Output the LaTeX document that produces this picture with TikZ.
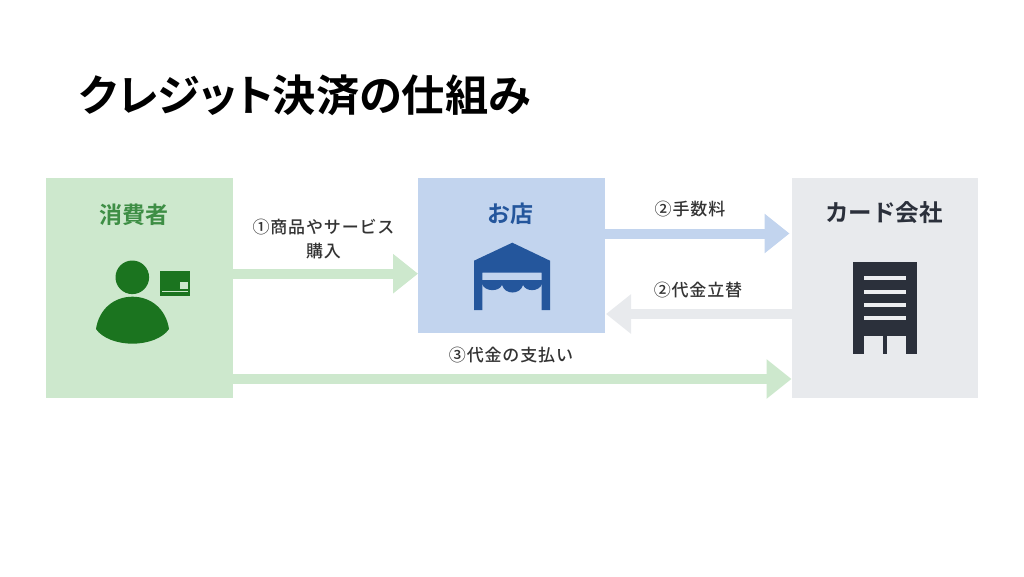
\documentclass[tikz,border=0pt]{standalone}
\usepackage{fontspec}
\usetikzlibrary{arrows.meta}
\newfontfamily\jpbold{Noto Sans CJK JP Bold}[RawFeature=+palt]
\newfontfamily\jpboldplain{Noto Sans CJK JP Bold}
\newfontfamily\jplabel{Noto Sans CJK JP Medium}[LetterSpace=5]
\definecolor{boxgreen}{HTML}{CDE8CD}
\definecolor{boxblue}{HTML}{C2D4EE}
\definecolor{boxgray}{HTML}{E8EAED}
\definecolor{icongreen}{HTML}{1B741F}
\definecolor{textgreen}{HTML}{3E8E45}
\definecolor{iconblue}{HTML}{24569C}
\definecolor{icondark}{HTML}{2B303B}
\tikzset{
  panel/.style={inner sep=0pt,outer sep=0pt,anchor=north west},
  heading/.style={font=\jpboldplain\fontsize{23}{24}\selectfont,inner sep=0pt},
  flowlabel/.style={font=\jplabel\fontsize{17}{24}\selectfont,text=black!80,inner sep=0pt,align=center},
  flow/.style={line width=10pt,-{Triangle[length=25pt,width=38pt]}},
}
\begin{document}
\begin{tikzpicture}[x=1pt,y=-1pt]
\useasboundingbox (0,0) rectangle (1024,576);
\node[font=\jpbold\fontsize{43.2}{48}\selectfont,anchor=west,inner sep=0pt,text=black] (title) at (79,95) {クレジット決済の仕組み};
% panels
\node[panel,fill=boxgreen,minimum width=187pt,minimum height=220pt] (cons) at (45.5,178) {};
\node[panel,fill=boxblue,minimum width=187pt,minimum height=155pt] (shop) at (418,178) {};
\node[panel,fill=boxgray,minimum width=186.5pt,minimum height=220pt] (card) at (791.5,178) {};
% panel titles
\node[heading,text=textgreen] (consT) at (134,215) {消費者};
\node[heading,text=iconblue] (shopT) at (510,214) {お店};
\node[heading,text=icondark,font=\jpboldplain\fontsize{23.5}{24}\selectfont] (cardT) at (884,213) {カード会社};
% flow levels
\coordinate (l1) at (0,273.7);
\coordinate (l2) at (0,233.5);
\coordinate (l3) at (0,314);
\coordinate (l4) at (0,379);
\draw[flow,boxgreen] (cons.east |- l1) -- (shop.west |- l1);
\draw[flow,boxblue] (shop.east |- l2) -- ([xshift=-2pt]card.west |- l2);
\draw[flow,boxgray] (card.west |- l3) -- ([xshift=1pt]shop.east |- l3);
\draw[flow,boxgreen] (cons.east |- l4) -- (card.west |- l4);
% flow labels
\node[flowlabel] (f1) at (323.5,239) {①商品やサービス\\購入};
\node[flowlabel] (f2) at (690,209.5) {②手数料};
\node[flowlabel] (f3) at (698,290) {②代金立替};
\node[flowlabel] (f4) at (511,355.5) {③代金の支払い};
% person icon
\fill[icongreen] (132.3,277.3) circle (16.8);
\fill[icongreen] (96,329) .. controls (99,309) and (114,296.7) .. (132.5,296.7)
  .. controls (151,296.7) and (166,309) .. (169,329)
  .. controls (163,338) and (148,343.7) .. (132.5,343.7)
  .. controls (117,343.7) and (102,338) .. (96,329) -- cycle;
\fill[icongreen] (160.3,270.7) rectangle (190,296);
\fill[boxgreen] (180,282.3) rectangle (187.7,289);
\fill[boxgreen] (162,291.2) rectangle (188.3,292.4);
% shop icon
\fill[iconblue] (512.3,242.7) -- (550,260.7) -- (550,310) -- (541.7,310) -- (541.7,272.7)
  -- (482.3,272.7) -- (482.3,310) -- (474,310) -- (474,260.7) -- cycle;
\fill[iconblue] (482,280) -- (542,280) -- (542,284)
  .. controls (539,292) and (526,292) .. (523,285)
  .. controls (520,295) and (505,295) .. (502,285)
  .. controls (499,292) and (485,292) .. (482,284) -- cycle;
% building icon
\fill[icondark] (852.7,262.3) rectangle (917,354);
\foreach \yy in {277.7,291.7,305,318.3}
  \fill[boxgray!80!white] (863.7,\yy-2) rectangle (905.7,\yy+2);
\fill[boxgray] (864,335.7) rectangle (882.7,354);
\fill[boxgray] (886.7,335.7) rectangle (905.7,354);
\end{tikzpicture}
\end{document}
